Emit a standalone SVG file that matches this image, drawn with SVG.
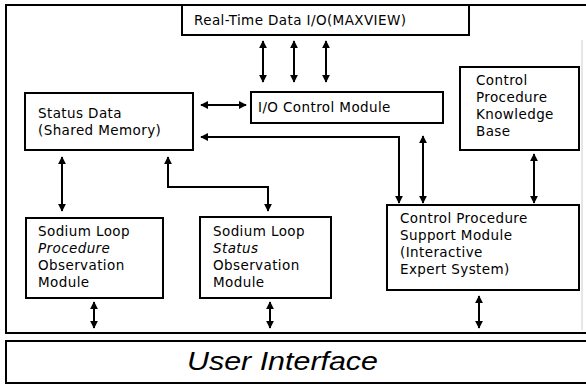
<svg xmlns="http://www.w3.org/2000/svg" width="586" height="387" viewBox="0 0 586 387">
<style>
.box{fill:#fff;stroke:#000;stroke-width:2}
.frame{fill:none;stroke:#000;stroke-width:2}
.t{font-family:"DejaVu Sans","Liberation Sans",sans-serif;font-size:13.5px;letter-spacing:0.4px;fill:#000}
.c{fill:none;stroke:#000;stroke-width:2}
</style>
<defs>
<marker id="ah" viewBox="0 0 10 10" refX="9" refY="5" markerWidth="4" markerHeight="4" orient="auto-start-reverse" markerUnits="strokeWidth">
<path d="M0,0 L10,5 L0,10 z" fill="#000"/>
</marker>
</defs>
<rect width="586" height="387" fill="#fff"/>
<g id="frame">
<polyline class="frame" points="586,5 6,5 6,333 586,333"/>
<line x1="582" y1="40" x2="582" y2="330" stroke="#ccc" stroke-width="1"/>
</g>
<g id="realtime">
<rect class="box" x="182" y="5" width="287" height="30"/>
<text class="t" x="194" y="25">Real-Time Data I/O(MAXVIEW)</text>
</g>
<g id="iocontrol">
<rect class="box" x="251" y="92" width="192" height="31"/>
<text class="t" x="258" y="112">I/O Control Module</text>
</g>
<g id="statusdata">
<rect class="box" x="25" y="93" width="168" height="57"/>
<text class="t" x="38" y="118">Status Data</text>
<text class="t" x="38" y="135">(Shared Memory)</text>
</g>
<g id="knowledge">
<rect class="box" x="460" y="67" width="119" height="83"/>
<text class="t" x="476" y="85">Control</text>
<text class="t" x="476" y="102">Procedure</text>
<text class="t" x="476" y="119">Knowledge</text>
<text class="t" x="476" y="136">Base</text>
</g>
<g id="support">
<rect class="box" x="387" y="205" width="192" height="85"/>
<text class="t" x="400" y="223">Control Procedure</text>
<text class="t" x="400" y="240">Support Module</text>
<text class="t" x="400" y="257">(Interactive</text>
<text class="t" x="400" y="274">Expert System)</text>
</g>
<g id="procobs">
<rect class="box" x="26" y="218" width="137" height="80"/>
<text class="t" x="38" y="236">Sodium Loop</text>
<text class="t" x="38" y="253" font-style="italic">Procedure</text>
<text class="t" x="38" y="270">Observation</text>
<text class="t" x="38" y="287">Module</text>
</g>
<g id="statobs">
<rect class="box" x="200" y="217" width="131" height="81"/>
<text class="t" x="213" y="236">Sodium Loop</text>
<text class="t" x="213" y="253" font-style="italic">Status</text>
<text class="t" x="213" y="270">Observation</text>
<text class="t" x="213" y="287">Module</text>
</g>
<g id="userinterface">
<rect class="box" x="6" y="341" width="582" height="42"/>
<text x="187" y="370" font-family="'Liberation Sans',Arial,sans-serif" font-style="italic" font-size="26" textLength="191" lengthAdjust="spacingAndGlyphs">User Interface</text>
</g>
<g id="connectors">
<line class="c" x1="263" y1="41" x2="263" y2="82" marker-start="url(#ah)" marker-end="url(#ah)"/>
<line class="c" x1="294" y1="41" x2="294" y2="82" marker-start="url(#ah)" marker-end="url(#ah)"/>
<line class="c" x1="326" y1="41" x2="326" y2="82" marker-start="url(#ah)" marker-end="url(#ah)"/>
<line class="c" x1="201" y1="105" x2="246" y2="105" marker-start="url(#ah)" marker-end="url(#ah)"/>
<polyline class="c" points="399,203 399,137 201,137" marker-start="url(#ah)" marker-end="url(#ah)"/>
<line class="c" x1="423" y1="136" x2="423" y2="203" marker-start="url(#ah)" marker-end="url(#ah)"/>
<line class="c" x1="534" y1="154" x2="534" y2="203" marker-start="url(#ah)" marker-end="url(#ah)"/>
<line class="c" x1="62" y1="157" x2="62" y2="211" marker-start="url(#ah)" marker-end="url(#ah)"/>
<polyline class="c" points="168,157 168,187 268,187 268,211" marker-start="url(#ah)" marker-end="url(#ah)"/>
<line class="c" x1="94" y1="302" x2="94" y2="328" marker-start="url(#ah)" marker-end="url(#ah)"/>
<line class="c" x1="270" y1="302" x2="270" y2="328" marker-start="url(#ah)" marker-end="url(#ah)"/>
<line class="c" x1="479" y1="296" x2="479" y2="328" marker-start="url(#ah)" marker-end="url(#ah)"/>
</g>
</svg>
